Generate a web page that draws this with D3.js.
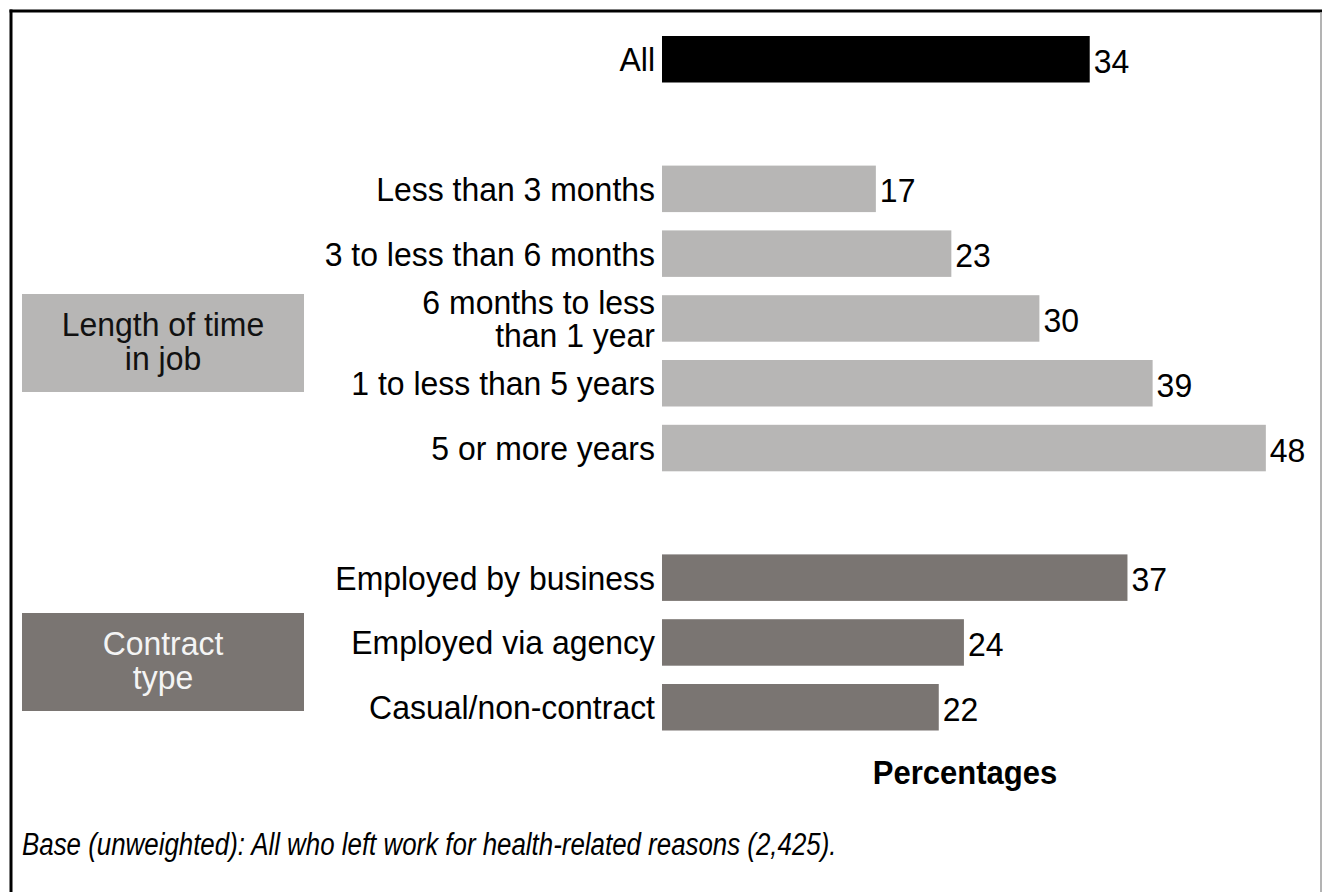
<!DOCTYPE html>
<html>
<head>
<meta charset="utf-8">
<script src="https://cdn.jsdelivr.net/npm/d3@7/dist/d3.min.js"></script>
<style>
  html, body { margin: 0; padding: 0; background: #fff; }
  svg { display: block; font-family: "Liberation Sans", Arial, sans-serif; }
</style>
</head>
<body>
<svg id="chart" width="1322" height="892"></svg>
<script>
// Share of people who left work for health-related reasons, by group
const rowKeys   = ["all", "gap1", "lt3m", "3to6m", "6mto1y", "1to5y", "5plus", "gap2", "business", "agency", "casual"];
const rowLabels = ["All", "", "Less than 3 months", "3 to less than 6 months", "6 months to less\nthan 1 year",
                   "1 to less than 5 years", "5 or more years", "", "Employed by business",
                   "Employed via agency", "Casual/non-contract"];
const rowValues = [34, null, 17, 23, 30, 39, 48, null, 37, 24, 22];
const rowGroups = ["all", null, "tenure", "tenure", "tenure", "tenure", "tenure", null, "contract", "contract", "contract"];

const groupNames  = ["tenure", "contract"];
const groupTitles = ["Length of time\nin job", "Contract\ntype"];

const axisTitle = "Percentages";
const footnote  = "Base (unweighted): All who left work for health-related reasons (2,425).";

const fills = { all: "#000000", tenure: "#b7b6b5", contract: "#7a7572" };
const boxText = { tenure: "#111111", contract: "#f4f4f4" };

const svg = d3.select("#chart");
const W = 1322, H = 892;

const x = d3.scaleLinear().domain([0, 50]).range([662, 1291]);
const y = d3.scaleBand().domain(rowKeys).range([36, 730.5]).paddingInner(0.2824).paddingOuter(0);

// Text is set slightly condensed throughout
const fs = 34, squeeze = 0.94;

// Writes (possibly multi-line) condensed text anchored at (ax, cy), lines centred on cy
function label(parent, ax, cy, str, opts) {
  const lines = str.split("\n");
  const g = parent.append("g").attr("transform", `translate(${ax},${cy}) scale(${opts.sx || squeeze},1)`);
  const t = g.append("text")
    .attr("text-anchor", opts.anchor || "start")
    .attr("font-size", opts.size || fs)
    .attr("font-weight", opts.weight || null)
    .attr("font-style", opts.style || null)
    .attr("fill", opts.fill || "#000");
  t.selectAll("tspan").data(lines).join("tspan")
    .attr("x", 0)
    .attr("y", (l, j) => (j - (lines.length - 1) / 2) * (opts.lh || 33))
    .attr("dy", opts.dy || "0.35em")
    .text(l => l);
  return g;
}

// Frame: heavy rule top and left, light rule on the right
svg.append("line").attr("x1", 9.5).attr("x2", W).attr("y1", 11).attr("y2", 11)
  .attr("stroke", "#000").attr("stroke-width", 3);
svg.append("line").attr("x1", 11).attr("x2", 11).attr("y1", 9.5).attr("y2", H)
  .attr("stroke", "#000").attr("stroke-width", 3);
svg.append("line").attr("x1", 1321).attr("x2", 1321).attr("y1", 12).attr("y2", H)
  .attr("stroke", "#9a9a9a").attr("stroke-width", 1.5);

const rows = rowKeys.map((k, i) => ({ key: k, label: rowLabels[i], value: rowValues[i], group: rowGroups[i] }))
  .filter(d => d.value !== null);

// Bars
svg.append("g").selectAll("rect").data(rows).join("rect")
  .attr("x", x(0))
  .attr("y", d => y(d.key))
  .attr("width", d => x(d.value) - x(0))
  .attr("height", y.bandwidth())
  .attr("fill", d => fills[d.group]);

// Category labels and value labels
const labelLayer = svg.append("g");
rows.forEach(d => {
  const cy = y(d.key) + y.bandwidth() / 2;
  label(labelLayer, x(0) - 7, cy, d.label, { anchor: "end", lh: 33 });
  label(labelLayer, x(d.value) + 4, cy, String(d.value), { dy: "0.4em" });
});

// Group label boxes
const boxes = [
  { name: groupNames[0], title: groupTitles[0], x0: 22, y0: 294, w: 282, h: 98 },
  { name: groupNames[1], title: groupTitles[1], x0: 22, y0: 613, w: 282, h: 98 }
];
const boxLayer = svg.append("g");
boxes.forEach(b => {
  boxLayer.append("rect")
    .attr("x", b.x0).attr("y", b.y0)
    .attr("width", b.w).attr("height", b.h)
    .attr("fill", fills[b.name]);
  label(boxLayer, b.x0 + b.w / 2, b.y0 + b.h / 2 - 2, b.title,
        { anchor: "middle", lh: 34, fill: boxText[b.name] });
});

// Axis title
label(svg, 965, 772, axisTitle, { anchor: "middle", size: 33, weight: "bold" });

// Footnote
svg.append("text")
  .attr("transform", "translate(22,855) scale(0.835,1)")
  .attr("font-size", 31)
  .attr("font-style", "italic")
  .text(footnote);
</script>
</body>
</html>
